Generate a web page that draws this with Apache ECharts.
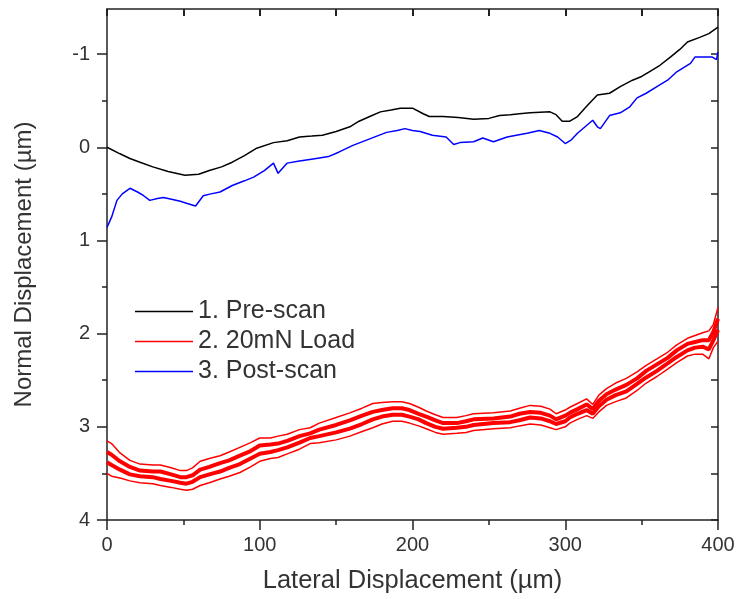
<!DOCTYPE html>
<html>
<head>
<meta charset="utf-8">
<script src="https://cdn.jsdelivr.net/npm/echarts@6/dist/echarts.min.js"></script>
<style>
html,body{margin:0;padding:0;background:#fff;}
#chart{width:739px;height:599px;}
</style>
</head>
<body>
<div id="chart"></div>
<script>
// ---- Data ----
const preX = [0,8.5,15,21.6,30,40,51,60,67,75,82,90,98,109,118,126,134,141,150,159,165,172,179,186,192,200,207,211,220,230,240,250,257,264,270,277,290,294,298,303,308,314,321,329,336,344,350,355,362,369,375,380,388,394,400];
const preY = [0,0.07,0.12,0.16,0.21,0.26,0.30,0.29,0.25,0.21,0.16,0.09,0.01,-0.05,-0.07,-0.11,-0.12,-0.13,-0.17,-0.22,-0.28,-0.33,-0.38,-0.40,-0.42,-0.42,-0.36,-0.33,-0.33,-0.32,-0.30,-0.31,-0.34,-0.35,-0.36,-0.37,-0.38,-0.35,-0.28,-0.28,-0.33,-0.44,-0.56,-0.58,-0.65,-0.72,-0.76,-0.81,-0.88,-0.97,-1.05,-1.13,-1.18,-1.22,-1.29];

const postX = [0,3,6.5,10,15,20,24,28,33,37,43,48,52,58,63,68,74,82,90,96,103,109,112,118,125,137,145,152,161,172,183,190,195,200,205,213,222,227,231,240,246,253,262,268,275,283,290,295,300,304,308,313,318,321,323,329,336,342,347,353,360,367,373,378,382,385,390,396,399,400];
const postY = [0.86,0.75,0.57,0.50,0.44,0.48,0.52,0.57,0.55,0.54,0.56,0.58,0.60,0.63,0.52,0.50,0.48,0.41,0.36,0.32,0.25,0.17,0.28,0.17,0.15,0.12,0.10,0.05,-0.02,-0.09,-0.16,-0.18,-0.20,-0.18,-0.17,-0.13,-0.11,-0.03,-0.05,-0.06,-0.10,-0.06,-0.11,-0.13,-0.15,-0.18,-0.15,-0.11,-0.04,-0.08,-0.15,-0.22,-0.29,-0.22,-0.20,-0.34,-0.37,-0.43,-0.53,-0.58,-0.65,-0.72,-0.81,-0.86,-0.90,-0.97,-0.97,-0.97,-0.94,-1.02];

const loadX = [0,3,8.5,15,21.6,30,35,42,48,52,56,61,67,74,80,87,94,100,107,112,118,126,133,139,150,159,167,174,180,187,193,198,204,209,215,220,229,235,240,253,264,270,277,284,290,294,300,303,308,314,318,322,327,333,340,347,353,360,367,373,380,385,390,394,397,400];
const loadY1 = [3.15,3.18,3.28,3.36,3.40,3.41,3.41,3.44,3.47,3.47,3.44,3.37,3.34,3.31,3.27,3.22,3.17,3.12,3.12,3.10,3.08,3.03,3.01,2.96,2.90,2.85,2.80,2.75,2.74,2.73,2.73,2.75,2.79,2.83,2.87,2.90,2.90,2.88,2.86,2.85,2.83,2.80,2.77,2.78,2.81,2.86,2.82,2.79,2.75,2.70,2.76,2.66,2.59,2.53,2.48,2.41,2.34,2.27,2.20,2.12,2.05,2.02,1.99,1.97,1.90,1.72];
const loadY2 = [3.27,3.30,3.37,3.43,3.47,3.48,3.48,3.51,3.54,3.54,3.52,3.46,3.43,3.39,3.36,3.31,3.26,3.20,3.19,3.18,3.15,3.10,3.07,3.03,2.98,2.93,2.88,2.84,2.82,2.80,2.80,2.82,2.86,2.89,2.93,2.96,2.96,2.94,2.92,2.91,2.89,2.86,2.84,2.85,2.88,2.92,2.88,2.85,2.81,2.76,2.81,2.72,2.65,2.60,2.55,2.48,2.40,2.33,2.26,2.18,2.11,2.09,2.07,2.07,1.98,1.84];
const loadY3 = [3.38,3.41,3.46,3.51,3.53,3.54,3.56,3.58,3.60,3.61,3.59,3.54,3.51,3.48,3.44,3.40,3.34,3.29,3.27,3.25,3.22,3.17,3.12,3.10,3.06,3.02,2.97,2.92,2.89,2.87,2.87,2.89,2.92,2.96,3.00,3.02,3.01,3.00,2.98,2.96,2.95,2.93,2.90,2.91,2.94,2.97,2.94,2.90,2.86,2.82,2.86,2.78,2.71,2.66,2.62,2.54,2.47,2.40,2.32,2.25,2.18,2.15,2.14,2.17,2.07,1.96];
const loadY4 = [3.50,3.53,3.55,3.58,3.60,3.61,3.63,3.65,3.67,3.68,3.67,3.63,3.60,3.56,3.53,3.49,3.43,3.37,3.34,3.33,3.29,3.24,3.18,3.17,3.14,3.10,3.05,3.01,2.97,2.94,2.94,2.96,2.99,3.02,3.06,3.08,3.07,3.06,3.04,3.02,3.01,2.99,2.97,2.98,3.01,3.03,3.00,2.96,2.92,2.88,2.91,2.84,2.77,2.73,2.69,2.61,2.53,2.46,2.38,2.31,2.24,2.22,2.22,2.27,2.15,2.08];

const yMajorTicks = [-1,0,1,2,3,4];
const yMinorTicks = [-0.5,0.5,1.5,2.5,3.5];
const yAllTicks = [-1,-0.5,0,0.5,1,1.5,2,2.5,3,3.5,4];

const names = ['1. Pre-scan','2. 20mN Load','3. Post-scan'];
const xTitle = 'Lateral Displacement (µm)';
const yTitle = 'Normal Displacement (µm)';

function pairs(xs, ys){ return xs.map((x,i)=>[x, ys[i]]); }

const FONT = '"Liberation Sans", Arial, sans-serif';
const AX = '#222';
const TXT = '#333';

const chart = echarts.init(document.getElementById('chart'), null, {renderer:'canvas'});
const lineSeries = (name, data, color, width, z) => ({
  type:'line', name, data, showSymbol:false, symbol:'none', animation:false,
  xAxisIndex:0, yAxisIndex:0, z: z||2,
  lineStyle:{color, width}, itemStyle:{color}, emphasis:{disabled:true}
});

chart.setOption({
  backgroundColor:'#fff',
  animation:false,
  grid:{left:107, right:21, top:9, bottom:79, containLabel:false},
  legend:{
    data:names,
    orient:'vertical', left:130, top:294,
    icon:'rect', itemWidth:58, itemHeight:1.5, itemGap:5,
    textStyle:{fontFamily:FONT, fontSize:25, color:TXT, padding:[0,0,0,0]},
    selectedMode:false
  },
  xAxis:[
    {type:'value', position:'bottom', min:0, max:400, interval:100,
     name:xTitle, nameLocation:'middle', nameGap:48,
     nameTextStyle:{fontFamily:FONT, fontSize:25.5, color:TXT},
     axisLine:{show:true, onZero:false, lineStyle:{color:AX, width:1.5}},
     axisTick:{show:true, inside:false, length:10, lineStyle:{color:AX, width:1.5}},
     minorTick:{show:true, splitNumber:2, length:5, lineStyle:{color:AX, width:1.5}},
     axisLabel:{fontFamily:FONT, fontSize:20, color:TXT, margin:15},
     splitLine:{show:false}, minorSplitLine:{show:false}},
    {type:'value', position:'top', min:0, max:400, interval:50,
     axisLine:{show:true, onZero:false, lineStyle:{color:AX, width:1.5}},
     axisTick:{show:true, inside:true, length:7, lineStyle:{color:AX, width:2}},
     axisLabel:{show:true, formatter:function(){return '';}}, splitLine:{show:false}}
  ],
  yAxis:[
    {type:'value', position:'left', inverse:true, min:-1.484, max:4,
     name:yTitle, nameLocation:'middle', nameGap:71, nameRotate:90,
     nameTextStyle:{fontFamily:FONT, fontSize:24, color:TXT},
     axisLine:{show:true, onZero:false, lineStyle:{color:AX, width:1.5}},
     axisTick:{show:true, inside:false, length:10, customValues:yMajorTicks, lineStyle:{color:AX, width:1.5}},
     axisLabel:{fontFamily:FONT, fontSize:20, color:TXT, margin:17, customValues:yMajorTicks},
     splitLine:{show:false}},
    {type:'value', position:'left', inverse:true, min:-1.484, max:4,
     axisLine:{show:false, onZero:false},
     axisTick:{show:true, inside:false, length:5, customValues:yMinorTicks, lineStyle:{color:AX, width:1.5}},
     axisLabel:{show:false, customValues:yMinorTicks}, splitLine:{show:false}},
    {type:'value', position:'right', inverse:true, min:-1.484, max:4,
     axisLine:{show:true, onZero:false, lineStyle:{color:AX, width:1.5}},
     axisTick:{show:true, inside:true, length:7, customValues:yAllTicks, lineStyle:{color:AX, width:1.5}},
     axisLabel:{show:false, customValues:yAllTicks}, splitLine:{show:false}}
  ],
  series:[
    lineSeries(names[0], pairs(preX, preY), '#000000', 1.5, 3),
    lineSeries(names[1], pairs(loadX, loadY1), '#ff0000', 1.5, 2),
    lineSeries(names[1], pairs(loadX, loadY2), '#ff0000', 4, 2),
    lineSeries(names[1], pairs(loadX, loadY3), '#ff0000', 4, 2),
    lineSeries(names[1], pairs(loadX, loadY4), '#ff0000', 1.5, 2),
    lineSeries(names[2], pairs(postX, postY), '#0000ff', 1.5, 3)
  ]
});
</script>
</body>
</html>
